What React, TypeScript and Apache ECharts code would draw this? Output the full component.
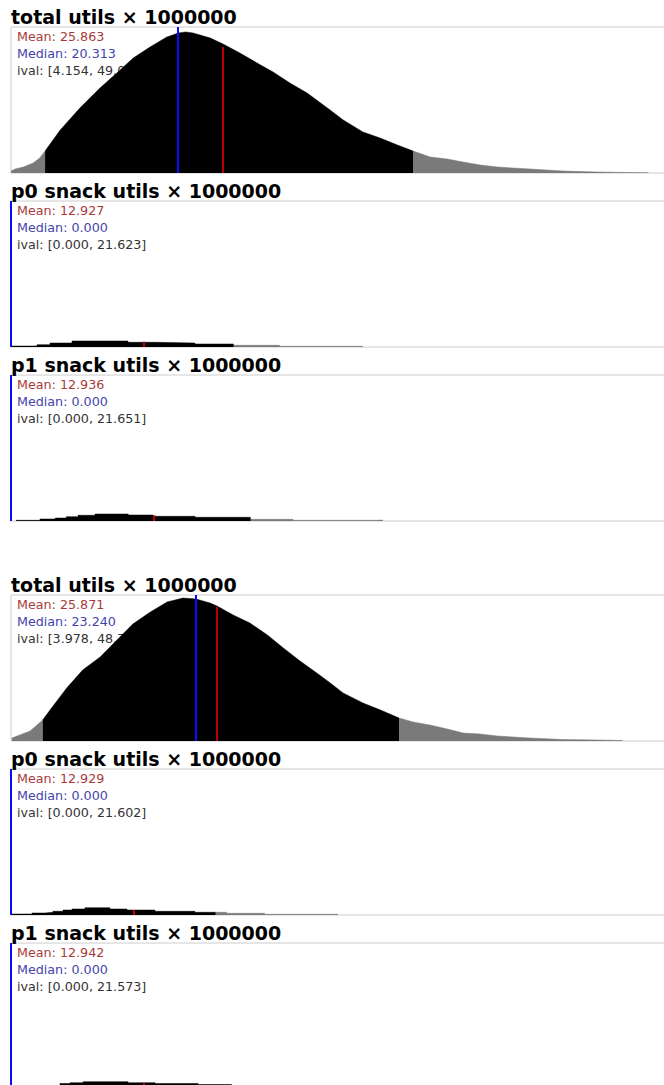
import React, { useEffect, useRef } from 'react';
import * as echarts from 'echarts';

// ---- panel metadata ----
const titles = [
  'total utils × 1000000',
  'p0 snack utils × 1000000',
  'p1 snack utils × 1000000',
  'total utils × 1000000',
  'p0 snack utils × 1000000',
  'p1 snack utils × 1000000',
];
const means = [25.863, 12.927, 12.936, 25.871, 12.929, 12.942];
const medians = [20.313, 0.0, 0.0, 23.24, 0.0, 0.0];
const ivalLo = [4.154, 0.0, 0.0, 3.978, 0.0, 0.0];
const ivalHi = [49.027, 21.623, 21.651, 48.736, 21.602, 21.573];
const meanBinHeight = [126, 5.3, 5.7, 134, 5, 6.3];
const xMaxValues = [82.9, 66.1, 61.5, 85.4, 71.9, 66.5];
const yMaxValue = 146;

// ---- histogram readings (x in utils, y in bin height units) ----
const total1U = [0, 0.5, 1.5, 2.7, 3.5, 4.154, 6.0, 8.4, 10.85, 12.9, 14.9, 16.95, 19.0, 20.4, 21.3, 22.2, 24.3, 25.85, 27.9, 30.0, 31.95, 34.0, 36.1, 38.9, 40.5, 42.9, 45.0, 47.1, 49.027, 51.1, 53.2, 55.1, 57.2, 59.3, 61.2, 63.3, 67.3, 71.5, 75.5, 77.7];
const total1H = [2, 4, 6, 10, 15, 22, 43, 65, 85, 100, 115, 126, 136, 140, 141, 140, 135, 129, 120, 110, 101, 90, 80, 63, 53, 41, 35, 28, 22, 16, 14, 11, 8, 6, 5, 4, 2, 1, 0.5, 0.3];

const total2U = [0.1, 1.1, 2.4, 3.978, 4.9, 7.0, 9.0, 11.2, 13.3, 15.3, 17.5, 19.6, 21.6, 23.24, 25.0, 25.87, 27.9, 30.0, 32.2, 34.2, 36.3, 38.4, 40.1, 41.7, 44.2, 46.4, 48.736, 50.5, 52.6, 54.8, 56.8, 58.9, 61.1, 65.2, 69.3, 73.6, 76.8];
const total2H = [3, 6, 10, 21, 31, 53, 71, 84, 101, 117, 129, 139, 143, 142, 138, 135, 126, 118, 106, 93, 80, 68, 58, 48, 38, 31, 23, 19, 16, 12, 8, 7, 5, 3, 1.5, 1, 0.5];

// step histograms: bin starts with heights; final entry is the end of the last bin
const p0Run1U = [0.1, 2.53, 3.79, 5.93, 11.37, 14.0, 17.88, 21.623, 26.1, 34.2];
const p0Run1H = [1, 2.3, 4, 6, 4.7, 4, 3, 1.7, 0.7, 0];

const p1Run1U = [0.45, 2.62, 4.0, 5.0, 6.06, 7.6, 10.6, 12.85, 16.65, 21.651, 25.5, 32.9, 33.6];
const p1Run1H = [0.7, 2, 3, 4.3, 5.7, 7, 6, 4.7, 3.7, 1.7, 0.7, 1, 0];

const p0Run2U = [0.1, 2.22, 3.59, 4.44, 5.5, 6.45, 7.82, 10.46, 12.26, 15.22, 19.45, 21.602, 22.8, 26.8, 34.57];
const p0Run2H = [1, 2, 2.7, 3.7, 5, 6, 7.3, 6, 5, 3.7, 2.7, 2.7, 1.7, 0.7, 0];

const p1Run2U = [0.1, 2.35, 4.79, 5.77, 7.05, 11.45, 14.09, 18.3, 21.573, 26.3, 34.1];
const p1Run2H = [1, 3, 5.5, 6.3, 7.3, 6.3, 5.5, 4.5, 2, 1, 0];

const histU = [total1U, p0Run1U, p1Run1U, total2U, p0Run2U, p1Run2U];
const histH = [total1H, p0Run1H, p1Run1H, total2H, p0Run2H, p1Run2H];
const isStep = [false, true, true, false, true, true];

// ---- layout ----
const gridTops = [27, 201, 375, 595, 769, 943];
const GRID_LEFT = 11;
const GRID_WIDTH = 680;
const GRID_HEIGHT = 146;

const BLACK = '#000000';
const GREY = '#7a7a7a';
const MEAN_LINE = '#b80000';
const MEDIAN_LINE = '#0a0aff';

function buildOption() {
  const grid: any[] = [];
  const xAxis: any[] = [];
  const yAxis: any[] = [];
  const series: any[] = [];
  const graphic: any[] = [];

  for (let i = 0; i < 6; i++) {
    const top = gridTops[i];
    grid.push({
      left: GRID_LEFT,
      top,
      width: GRID_WIDTH,
      height: GRID_HEIGHT,
      show: true,
      borderColor: '#cccccc',
      borderWidth: 1,
      backgroundColor: '#ffffff',
      containLabel: false,
    });
    xAxis.push({ type: 'value', gridIndex: i, min: 0, max: xMaxValues[i], show: false });
    yAxis.push({ type: 'value', gridIndex: i, min: 0, max: yMaxValue, show: false });

    const us = histU[i];
    const hs = histH[i];
    const lo = ivalLo[i];
    const hi = ivalHi[i];
    const pts = us.map((u, k) => [u, hs[k]]);

    let leftGrey: number[][] = [];
    let mid: number[][] = [];
    let rightGrey: number[][] = [];
    if (!isStep[i]) {
      leftGrey = pts.filter((p) => p[0] <= lo);
      mid = pts.filter((p) => p[0] >= lo && p[0] <= hi);
      rightGrey = pts.filter((p) => p[0] >= hi);
    } else {
      mid = pts.filter((p) => p[0] < hi);
      mid.push([hi, 0]);
      rightGrey = pts.filter((p) => p[0] >= hi);
    }

    const base = {
      type: 'line',
      xAxisIndex: i,
      yAxisIndex: i,
      symbol: 'none',
      silent: true,
      animation: false,
      step: isStep[i] ? 'end' : false,
      smooth: false,
    };

    if (leftGrey.length > 1) {
      series.push({
        ...base,
        data: leftGrey,
        lineStyle: { color: GREY, width: 0.5 },
        areaStyle: { color: GREY, opacity: 1 },
      });
    }
    if (rightGrey.length > 1) {
      series.push({
        ...base,
        data: rightGrey,
        lineStyle: { color: GREY, width: 0.5 },
        areaStyle: { color: GREY, opacity: 1 },
      });
    }
    series.push({
      ...base,
      data: mid,
      lineStyle: { color: BLACK, width: 0.5 },
      areaStyle: { color: BLACK, opacity: 1 },
      markLine: {
        silent: true,
        symbol: ['none', 'none'],
        label: { show: false },
        animation: false,
        data: [
          [
            { coord: [medians[i], 0], lineStyle: { color: MEDIAN_LINE, width: 2, type: 'solid' } },
            { coord: [medians[i], yMaxValue] },
          ],
          [
            { coord: [means[i], 0], lineStyle: { color: MEAN_LINE, width: 2, type: 'solid' } },
            { coord: [means[i], meanBinHeight[i]] },
          ],
        ],
      },
    });

    // title
    graphic.push({
      type: 'text',
      x: 11,
      y: top - 10,
      z: 10,
      silent: true,
      style: {
        text: titles[i],
        fill: '#000000',
        fontSize: 19,
        fontWeight: 'bold',
        fontFamily: '"DejaVu Sans", Verdana, sans-serif',
        verticalAlign: 'middle',
        align: 'left',
      },
    });
    const statFont = { fontSize: 12.7, fontFamily: '"DejaVu Sans", Verdana, sans-serif', verticalAlign: 'middle', align: 'left' };
    graphic.push({
      type: 'text', x: 17, y: top + 9.5, z: 1, silent: true,
      style: { ...statFont, text: `Mean: ${means[i].toFixed(3)}`, fill: '#a83a3a' },
    });
    graphic.push({
      type: 'text', x: 17, y: top + 26.5, z: 1, silent: true,
      style: { ...statFont, text: `Median: ${medians[i].toFixed(3)}`, fill: '#4444aa' },
    });
    graphic.push({
      type: 'text', x: 17, y: top + 43.5, z: 1, silent: true,
      style: { ...statFont, text: `ival: [${ivalLo[i].toFixed(3)}, ${ivalHi[i].toFixed(3)}]`, fill: '#333333' },
    });
  }

  return {
    animation: false,
    backgroundColor: '#ffffff',
    grid,
    xAxis,
    yAxis,
    series,
    graphic,
  };
}

export default function App() {
  const ref = useRef<HTMLDivElement>(null);
  useEffect(() => {
    if (!ref.current) return;
    const chart = echarts.init(ref.current, undefined, { renderer: 'svg' });
    chart.setOption(buildOption() as any);
    return () => chart.dispose();
  }, []);
  return (
    <div
      style={{ position: 'absolute', left: 0, top: 0, width: 664, height: 1085, overflow: 'hidden', background: '#fff' }}
    >
      <div ref={ref} style={{ width: 720, height: 1110 }} />
    </div>
  );
}
